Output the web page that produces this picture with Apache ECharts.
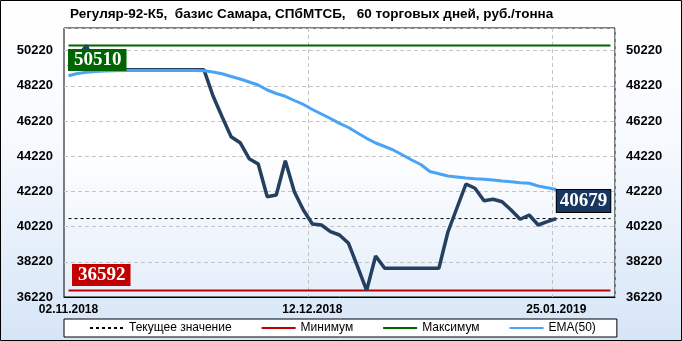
<!DOCTYPE html>
<html><head><meta charset="utf-8">
<script src="https://cdn.jsdelivr.net/npm/echarts@6/dist/echarts.min.js"></script>
<style>html,body{margin:0;padding:0;background:#fff}#c{width:682px;height:341px}</style>
</head><body><div id="c"></div>
<script>
// ---- data ----
const dates = [
 '02.11.2018','06.11.2018','07.11.2018','08.11.2018','09.11.2018','12.11.2018','13.11.2018','14.11.2018','15.11.2018','16.11.2018',
 '19.11.2018','20.11.2018','21.11.2018','22.11.2018','23.11.2018','26.11.2018','27.11.2018','28.11.2018','29.11.2018','30.11.2018',
 '03.12.2018','04.12.2018','05.12.2018','06.12.2018','07.12.2018','10.12.2018','11.12.2018','12.12.2018','13.12.2018','14.12.2018',
 '17.12.2018','18.12.2018','19.12.2018','20.12.2018','21.12.2018','24.12.2018','25.12.2018','26.12.2018','27.12.2018','28.12.2018',
 '29.12.2018','31.12.2018','09.01.2019','10.01.2019','11.01.2019','14.01.2019','15.01.2019','16.01.2019','17.01.2019','18.01.2019',
 '21.01.2019','22.01.2019','23.01.2019','24.01.2019','25.01.2019'
];
const padCategories = ['', '', '', '', '', ''];
const categories = dates.concat(padCategories);
const price = [
 49310, 49900, 50510, 49130, 49130, 49130, 49130, 49130, 49130, 49130,
 49130, 49130, 49130, 49130, 49130, 49130, 47645, 46468, 45331, 44990,
 44081, 43780, 41921, 42018, 43967, 42205, 41165, 40369, 40312, 39932,
 39744, 39272, 37948, 36592, 38550, 37851, 37851, 37851, 37851, 37851,
 37851, 37851, 39915, 41279, 42643, 42399, 41694, 41773, 41637, 41165,
 40637, 40881, 40312, 40500, 40679
];
const ema50 = [
 48799, 48924, 48992, 49038, 49066, 49077, 49089, 49095, 49100, 49100,
 49100, 49100, 49100, 49100, 49095, 49077, 49009, 48912, 48753, 48611,
 48441, 48270, 47986, 47787, 47628, 47389, 47162, 46878, 46622, 46366,
 46093, 45854, 45542, 45240, 44973, 44774, 44564, 44291, 44007, 43751,
 43353, 43223, 43098, 43041, 42984, 42939, 42916, 42870, 42813, 42768,
 42717, 42683, 42529, 42427, 42325
];
const currentValue = 40679;
const minValue = 36592;
const maxValue = 50510;
const yMin = 36220, yMax = 51510, yStep = 2000;
const xLabelIndex = [0, 27, 54];
const xGridIndex = [27, 54];
const legendNames = ['Текущее значение', 'Минимум', 'Максимум', 'EMA(50)'];
const titleText = 'Регуляр-92-К5,  базис Самара, СПбМТСБ,   60 торговых дней, руб./тонна';

// ---- chart ----
const chart = echarts.init(document.getElementById('c'), null, {renderer: 'canvas'});
const flat = v => categories.map(() => v);
const boxLabel = (bg, pos, vAlign, extra) => Object.assign({
  show: true, formatter: '{c}', position: pos, align: 'left', verticalAlign: vAlign,
  backgroundColor: bg, color: '#fff', fontFamily: 'Liberation Serif', fontWeight: 'bold',
  fontSize: 19, lineHeight: 21, padding: [1, 5, 0, 6]
}, extra || {});
const yAxisBase = {
  type: 'value', min: yMin, max: yMax, interval: yStep,
  axisLine: {show: false}, axisTick: {show: false},
  axisLabel: {showMaxLabel: false, formatter: v => String(v), color: '#000', fontWeight: 'bold', fontSize: 13, fontFamily: 'Liberation Sans', margin: 11}
};
const option = {
  animation: false,
  backgroundColor: {type: 'linear', x: 0, y: 0, x2: 0, y2: 1, colorStops: [{offset: 0, color: '#ffffff'}, {offset: 0.4, color: '#f7fafe'}, {offset: 1, color: '#d6e5f7'}]},
  title: {text: titleText, left: 70, top: 7, padding: 0, textStyle: {fontSize: 13.5, fontWeight: 'bold', color: '#000', fontFamily: 'Liberation Sans'}},
  graphic: [{type: 'rect', shape: {x: 0.5, y: 0.5, width: 681, height: 340}, style: {fill: 'none', stroke: '#000', lineWidth: 1}, silent: true}],
  grid: {left: 64, right: 67, top: 28, bottom: 44, show: true, borderColor: '#000', borderWidth: 1,
    backgroundColor: {type: 'linear', x: 0, y: 0, x2: 0, y2: 1, colorStops: [{offset: 0, color: '#ffffff'}, {offset: 0.45, color: '#ffffff'}, {offset: 1, color: '#e4eefa'}]}},
  legend: {data: legendNames, left: 64, top: 319, padding: [3, 21, 3, 25], itemGap: 29, itemWidth: 34, itemHeight: 10,
    itemStyle: {opacity: 0},
    backgroundColor: '#fff', borderColor: '#000', borderWidth: 1,
    textStyle: {fontSize: 12, color: '#000', fontFamily: 'Liberation Sans'}},
  xAxis: {type: 'category', data: categories, boundaryGap: true,
    axisLine: {show: true, lineStyle: {color: '#000'}}, axisTick: {show: false},
    axisLabel: {interval: (i) => xLabelIndex.includes(i), color: '#000', fontWeight: 'bold', fontSize: 12, fontFamily: 'Liberation Sans', margin: 7},
    splitLine: {show: true, interval: (i) => xGridIndex.includes(i), lineStyle: {color: '#c4c4c4', type: [4, 3]}}},
  yAxis: [
    Object.assign({}, yAxisBase, {position: 'left', splitLine: {show: true, lineStyle: {color: '#c4c4c4', type: [4, 3]}}}),
    Object.assign({}, yAxisBase, {position: 'right', splitLine: {show: false}})
  ],
  series: [
    {name: 'Текущее значение', type: 'line', data: flat(currentValue), showSymbol: false, symbol: 'none',
      lineStyle: {color: '#000', width: 1, type: [3, 3]}, itemStyle: {color: '#000'}},
    {name: 'Минимум', type: 'line', data: flat(minValue), showSymbol: false, symbol: 'none',
      lineStyle: {color: '#c00000', width: 2}, itemStyle: {color: '#c00000'},
      markPoint: {symbol: 'rect', symbolSize: 1, itemStyle: {color: 'rgba(0,0,0,0)'},
        data: [{coord: [0, minValue], value: minValue}], label: boxLabel('#c00000', [4, -4], 'bottom')}},
    {name: 'Максимум', type: 'line', data: flat(maxValue), showSymbol: false, symbol: 'none',
      lineStyle: {color: '#006400', width: 2}, itemStyle: {color: '#006400'},
      markPoint: {symbol: 'rect', symbolSize: 1, itemStyle: {color: 'rgba(0,0,0,0)'},
        data: [{coord: [0, maxValue], value: maxValue}], label: boxLabel('#006400', [0, 4], 'top')}},
    {name: 'Цена', type: 'line', data: price, showSymbol: false, symbol: 'none',
      lineStyle: {color: '#243f60', width: 3.5}, itemStyle: {color: '#243f60'},
      markPoint: {symbol: 'rect', symbolSize: 1, itemStyle: {color: 'rgba(0,0,0,0)'},
        data: [{coord: [dates.length - 1, currentValue], value: currentValue}],
        label: boxLabel('#17375e', [1, -6], 'bottom', {borderColor: '#000', borderWidth: 1, padding: [1, 3, 0, 3]})}},
    {name: 'EMA(50)', type: 'line', data: ema50, showSymbol: false, symbol: 'none',
      lineStyle: {color: '#4aa3f5', width: 3}, itemStyle: {color: '#4aa3f5'}}
  ]
};
chart.setOption(option);
</script></body></html>
